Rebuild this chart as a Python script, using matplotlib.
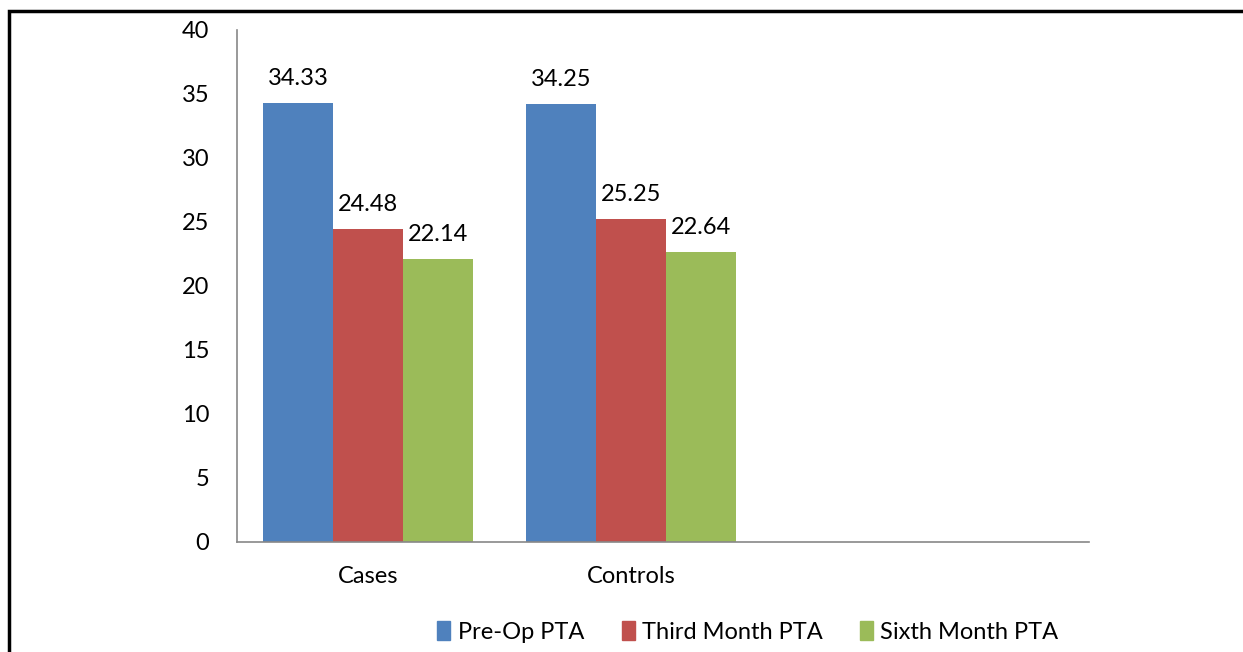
import matplotlib.pyplot as plt
import matplotlib.patches as mpatches
import numpy as np

plt.rcParams['font.family'] = ['Lato', 'DejaVu Sans']

groups = ["Cases", "Controls"]
series_names = ["Pre-Op PTA", "Third Month PTA", "Sixth Month PTA"]
pre_op = [34.33, 34.25]
third_month = [24.48, 25.25]
sixth_month = [22.14, 22.64]
colors = ["#4F81BD", "#C0504D", "#9BBB59"]

fig = plt.figure(figsize=(12.43, 6.52), dpi=100)
ax = fig.add_axes([237 / 1243, 1 - 542 / 652, (1089 - 237) / 1243, (542 - 30) / 652])

x = np.arange(len(groups))
w = 70 / 263
for i, (vals, name, col) in enumerate(zip([pre_op, third_month, sixth_month], series_names, colors)):
    bars = ax.bar(x + (i - 1) * w, vals, width=w, color=col, label=name)
    for b, v in zip(bars, vals):
        ax.annotate(f"{v:.2f}", (b.get_x() + b.get_width() / 2, v), xytext=(0, 10),
                    textcoords="offset points", ha="center", va="bottom", fontsize=17)

ax.set_xlim(-131 / 263, 721 / 263)
ax.set_ylim(0, 40)
ax.set_yticks(range(0, 41, 5))
ax.set_xticks(x)
ax.set_xticklabels(groups)
ax.tick_params(axis="both", length=0, labelsize=17)
ax.tick_params(axis="y", pad=20)
ax.tick_params(axis="x", pad=17)
for s in ["top", "right"]:
    ax.spines[s].set_visible(False)
for s in ["left", "bottom"]:
    ax.spines[s].set_color("#888888")
    ax.spines[s].set_linewidth(1.2)

handles = [mpatches.Patch(color=c, label=n) for n, c in zip(series_names, colors)]
fig.legend(handles=handles, loc="center", bbox_to_anchor=(748 / 1243, 1 - 632 / 652), ncol=3,
           frameon=False, fontsize=17, handlelength=0.55, handleheight=0.85, handletextpad=0.3,
           columnspacing=1.6)

# outer frame
fig.add_artist(mpatches.Rectangle((9 / 1243, -0.05), 1.1, 1 - 11 / 652 + 0.05,
                                  transform=fig.transFigure, fill=False, edgecolor="black",
                                  linewidth=2.5))

fig.savefig("out.png", dpi=100)
